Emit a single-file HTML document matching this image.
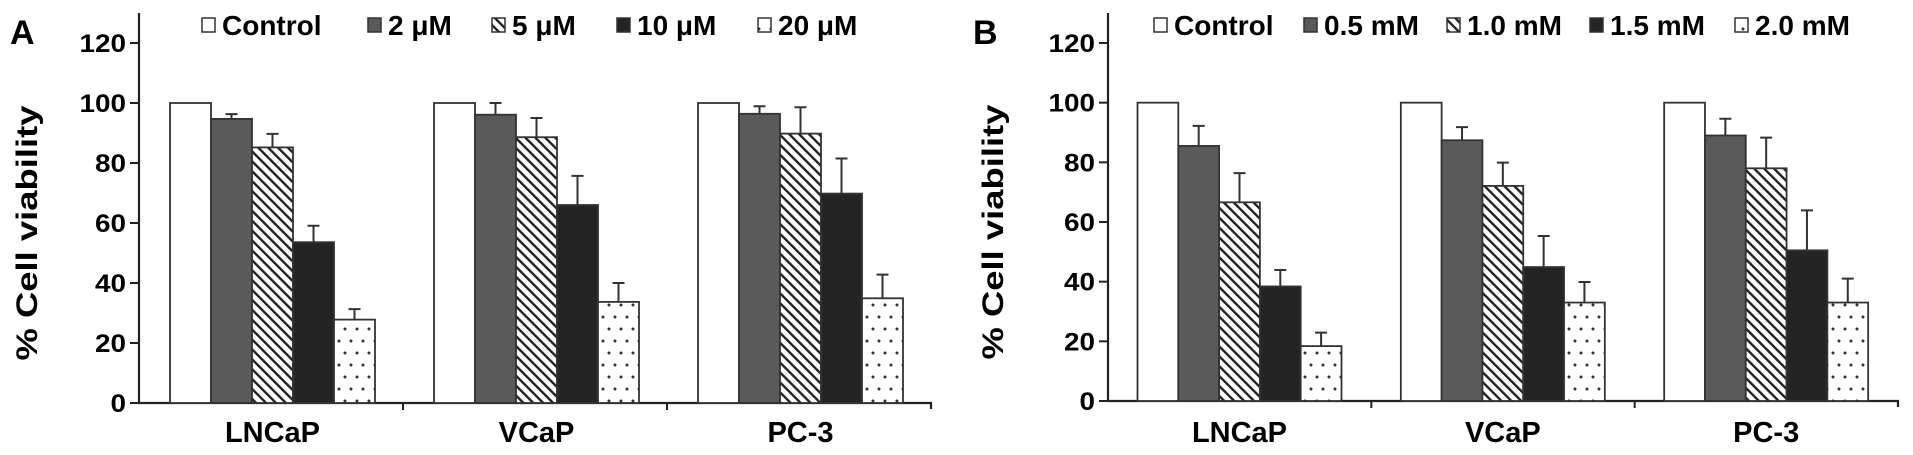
<!DOCTYPE html>
<html><head><meta charset="utf-8"><style>
html,body{margin:0;padding:0;background:#fff;}
svg{display:block;font-family:"Liberation Sans",Arial,sans-serif;font-weight:bold;}
</style></head><body>
<svg id="fig" width="1913" height="455" viewBox="0 0 1913 455" xmlns="http://www.w3.org/2000/svg">
<defs>
<pattern id="hatch" patternUnits="userSpaceOnUse" width="7" height="7" patternTransform="rotate(-45)">
<rect width="7" height="7" fill="#fff"/><rect x="0" y="0" width="2.4" height="7" fill="#222"/>
</pattern>
<pattern id="dots" patternUnits="userSpaceOnUse" width="12" height="24">
<rect width="12" height="24" fill="#fff"/><circle cx="3" cy="5" r="1.5" fill="#333"/><circle cx="9" cy="17" r="1.5" fill="#333"/>
</pattern>
</defs>
</svg>
<script>
const categories = ["LNCaP", "VCaP", "PC-3"];
const seriesA = ["Control", "2 μM", "5 μM", "10 μM", "20 μM"];
const seriesB = ["Control", "0.5 mM", "1.0 mM", "1.5 mM", "2.0 mM"];
const valuesA = [[100, 94.7, 85.2, 53.6, 27.8], [100, 96.1, 88.6, 66, 33.7], [100, 96.4, 89.8, 69.8, 34.9]];
const errTopA = [[100, 96.3, 89.7, 59.1, 31.3], [100, 100, 95, 75.7, 40], [100, 98.9, 98.6, 81.5, 42.8]];
const valuesB = [[100, 85.5, 66.6, 38.4, 18.4], [100, 87.4, 72.1, 44.9, 33], [100, 89, 78, 50.5, 33]];
const errTopB = [[100, 92.2, 76.4, 43.9, 22.9], [100, 91.8, 79.9, 55.3, 39.9], [100, 94.6, 88.3, 63.9, 41]];
const yTicks = [0, 20, 40, 60, 80, 100, 120];

const NS = "http://www.w3.org/2000/svg";
const svg = document.getElementById("fig");
const fills = ["#fff", "#5a5a5a", "url(#hatch)", "#242424", "url(#dots)"];
function mk(tag, attrs, parent) {
  const e = document.createElementNS(NS, tag);
  for (const k in attrs) e.setAttribute(k, attrs[k]);
  (parent || svg).appendChild(e);
  return e;
}
function panel(p) {
  const g = mk("g", {});
  
  
  const y = v => p.y0 - (v / 120) * (p.y0 - p.y120);
  const L = mk("text", {x: p.letterX, y: 44, "font-size": 34}, g); L.textContent = p.id.toUpperCase();
  
  
  const yt = mk("text", {x: 0, y: 0, "font-size": 30, "text-anchor": "middle", textLength: 255, lengthAdjust: "spacingAndGlyphs", transform: `translate(${p.titleX},${(p.y0 + p.y120) / 2 + 10}) rotate(-90)`}, g);
  yt.textContent = "% Cell viability";
  
  
  const ax = mk("path", {d: `M${p.ax} 13 V${p.y0} H${p.axEnd} v6`, stroke: "#222", "stroke-width": 2.2, fill: "none"}, g);
  
  
  yTicks.forEach(t => {
    mk("line", {x1: p.ax - 9, x2: p.ax, y1: y(t), y2: y(t), stroke: "#222", "stroke-width": 2}, g);
    const tl = mk("text", {x: p.ax - 13, y: y(t) + 9, "font-size": 25, "text-anchor": "end", textLength: String(t).length * 15.5, lengthAdjust: "spacingAndGlyphs"}, g);
    tl.textContent = t;
    
    
  });
  const period = (p.axEnd - p.ax) / 3;
  categories.forEach((c, i) => {
    const gs = p.ax + i * period;
    if (i > 0) mk("line", {x1: gs, x2: gs, y1: p.y0, y2: p.y0 + 7, stroke: "#222", "stroke-width": 2}, g);
    const start = gs + p.off;
    p.vals[i].forEach((v, j) => {
      const bx = start + j * p.bw;
      const r = mk("rect", {x: bx, y: y(v), width: p.bw, height: p.y0 - y(v), fill: fills[j], stroke: "#333", "stroke-width": 1.8}, g);
      
      
      if (p.errs[i][j] > v) {
        const cx = bx + p.bw / 2;
        const e = mk("path", {d: `M${cx} ${y(v)} V${y(p.errs[i][j])} M${cx - 6} ${y(p.errs[i][j])} H${cx + 6}`, stroke: "#333", "stroke-width": 2, fill: "none"}, g);
        
        
      }
    });
    const cl = mk("text", {x: start + p.bw * 2.5, y: 442, "font-size": 29, "text-anchor": "middle"}, g);
    cl.textContent = c;
    
    
  });
  p.series.forEach((s, j) => {
    const lx = p.legX[j];
    const b = mk("rect", {x: lx, y: 18, width: 13, height: 14, fill: fills[j], stroke: "#333", "stroke-width": 1.5}, g);
    
    
    const t = mk("text", {x: lx + 20, y: 35, "font-size": 28}, g);
    t.textContent = s;
    
    
  });
}
panel({id: "a", letterX: 10, titleX: 37, ax: 139, axEnd: 931, y0: 403, y120: 43, off: 31, bw: 41,
  vals: valuesA, errs: errTopA, series: seriesA, legX: [202, 368, 492, 617, 758]});
panel({id: "b", letterX: 973, titleX: 1003, ax: 1108, axEnd: 1898, y0: 401, y120: 43, off: 29.5, bw: 40.8,
  vals: valuesB, errs: errTopB, series: seriesB, legX: [1154, 1304, 1447, 1590, 1735]});
</script>
</body></html>
